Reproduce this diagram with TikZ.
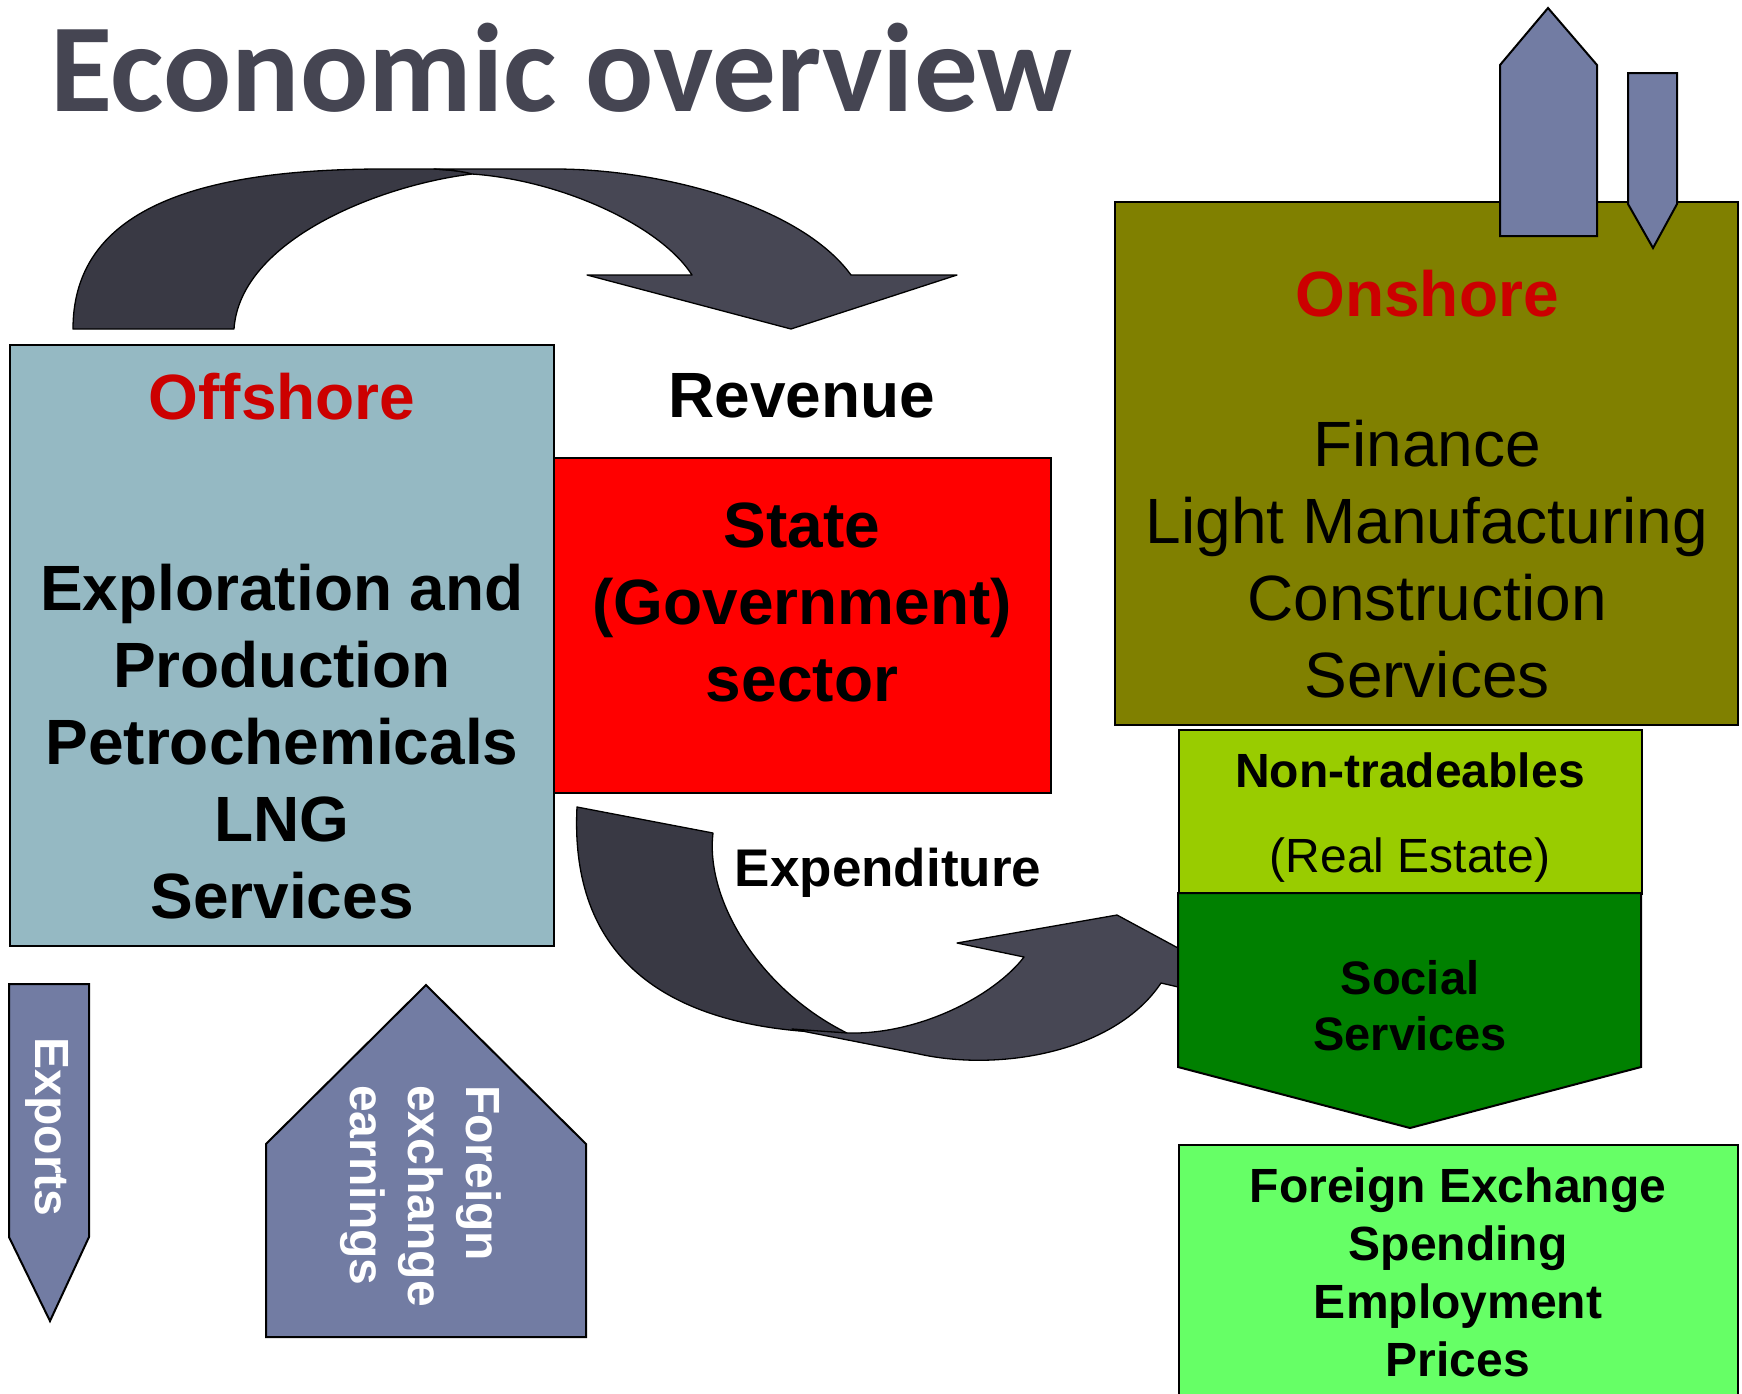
\documentclass[tikz,border=0pt]{standalone}
\usepackage{fontspec}
\setmainfont{Liberation Sans}
\newfontfamily\titlefont{Carlito}
\definecolor{titlegray}{RGB}{69,69,82}
\definecolor{offblue}{RGB}{149,185,195}
\definecolor{olivebg}{RGB}{128,128,0}
\definecolor{limebg}{RGB}{153,204,0}
\definecolor{greenbg}{RGB}{0,128,0}
\definecolor{brightgreen}{RGB}{102,255,102}
\definecolor{slate}{RGB}{114,124,163}
\definecolor{arrowdark}{RGB}{57,57,68}
\definecolor{arrowlight}{RGB}{71,71,84}
\definecolor{headred}{RGB}{204,0,0}
\begin{document}
\begin{tikzpicture}[x=1pt,y=-1pt,
  panel/.style={draw=black, line width=2pt, inner sep=0pt, anchor=north west},
  band/.style={draw=black, line width=1.3pt, line join=round},
  slatearrow/.style={fill=slate, draw=black, line width=2pt, line join=miter},
  bigbold/.style={font=\bfseries\fontsize{64}{77}\selectfont, align=center, inner sep=0pt},
  bigplain/.style={font=\fontsize{64}{77}\selectfont, align=center, inner sep=0pt},
  midbold/.style={font=\bfseries\fontsize{48}{58}\selectfont, align=center, inner sep=0pt},
  midplain/.style={font=\fontsize{48}{58}\selectfont, align=center, inner sep=0pt},
  whitebold/.style={font=\bfseries\fontsize{48}{58}\selectfont, text=white, inner sep=0pt}]
\useasboundingbox (0,0) rectangle (1742,1393);

% title
\node[anchor=base west, text=titlegray, inner sep=0pt, xscale=1.01,
      font=\titlefont\bfseries\fontsize{126}{130}\selectfont] (title) at (50,111) {Economic overview};

% revenue arrow: rear band
\path[band, fill=arrowdark] (73,329)
  .. controls (73,217) and (181,169) .. (383,169)
  -- (434,169) .. controls (450,170) and (462,171) .. (472,174)
  .. controls (380,185) and (240,240) .. (234,329)
  -- cycle;
% revenue arrow: front band with head
\path[band, fill=arrowlight] (434,169) -- (555,169)
  .. controls (660,169) and (800,205) .. (851,275)
  -- (957,275) -- (791,329) -- (587,275) -- (692,275)
  .. controls (660,225) and (560,180) .. (472,174)
  .. controls (462,171) and (450,170) .. (434,169) -- cycle;

% expenditure arrow: rear band
\path[band, fill=arrowdark] (577,807)
  .. controls (570,945) and (650,1018) .. (800,1031)
  -- (847,1033)
  .. controls (760,990) and (705,900) .. (713,833)
  -- cycle;
% expenditure arrow: front band with head
\path[band, fill=arrowlight] (792,1029) -- (919,1054)
  .. controls (1000,1072) and (1115,1052) .. (1161,983)
  -- (1200,992) -- (1215,968) -- (1117,915) -- (957,943) -- (1024,957)
  .. controls (995,995) and (920,1035) .. (847,1033)
  -- cycle;

% sector boxes
\node[panel, fill=offblue, minimum width=544pt, minimum height=601pt] (offshore) at (9,344) {};
\node[panel, fill=red, minimum width=497pt, minimum height=335pt] (state) at (553,457) {};
\node[panel, fill=olivebg, minimum width=623pt, minimum height=523pt] (onshore) at (1114,201) {};
\node[panel, fill=limebg, minimum width=463pt, minimum height=164pt] (nontrade) at (1178,729) {};
\draw[fill=greenbg, line width=2pt] (1178,893) -- (1641,893) -- (1641,1067) -- (1410,1128) -- (1178,1067) -- cycle;
\node[panel, fill=brightgreen, minimum width=559pt, minimum height=270pt] (fxbox) at (1178,1144) {};

% up and down arrows on the onshore box
\draw[slatearrow] (1500,236) -- (1500,65) -- (1548,8) -- (1597,65) -- (1597,236) -- cycle;
\draw[slatearrow] (1628,73) -- (1677,73) -- (1677,204) -- (1653,248) -- (1628,204) -- cycle;

% exports and foreign exchange arrows
\draw[slatearrow] (9,984) -- (89,984) -- (89,1237) -- (50,1321) -- (9,1237) -- cycle;
\draw[slatearrow] (266,1337) -- (266,1144) -- (426,985) -- (586,1144) -- (586,1337) -- cycle;

% labels
\node[bigbold, text=headred] (offtitle) at (282,397) {Offshore};
\node[bigbold] (offtext) at (282,742) {Exploration and\\Production\\Petrochemicals\\LNG\\Services};
\node[bigbold] (revenue) at (802,396) {Revenue};
\node[bigbold] (statetext) at (802,602) {State\\(Government)\\sector};
\node[bigbold, text=headred] (ontitle) at (1427,294) {Onshore};
\node[bigplain] (ontext) at (1427,559) {Finance\\Light Manufacturing\\Construction\\Services};
\node[midbold] (ntlabel) at (1410,770) {Non-tradeables};
\node[midplain] (relabel) at (1410,860) {(Real Estate)};
\node[font=\bfseries\fontsize{47}{56}\selectfont, align=center, inner sep=0pt] (social) at (1410,1006) {Social\\Services};
\node[midbold] (fxtext) at (1458,1272) {Foreign Exchange\\Spending\\Employment\\Prices};
\node[font=\bfseries\fontsize{53}{60}\selectfont, inner sep=0pt] (expend) at (888,873) {Expenditure};
\node[whitebold, rotate=-90] (exports) at (47,1127) {Exports};
\node[whitebold, rotate=-90, align=left] (fxearn) at (421,1196) {Foreign\\exchange\\earnings};
\end{tikzpicture}
\end{document}
